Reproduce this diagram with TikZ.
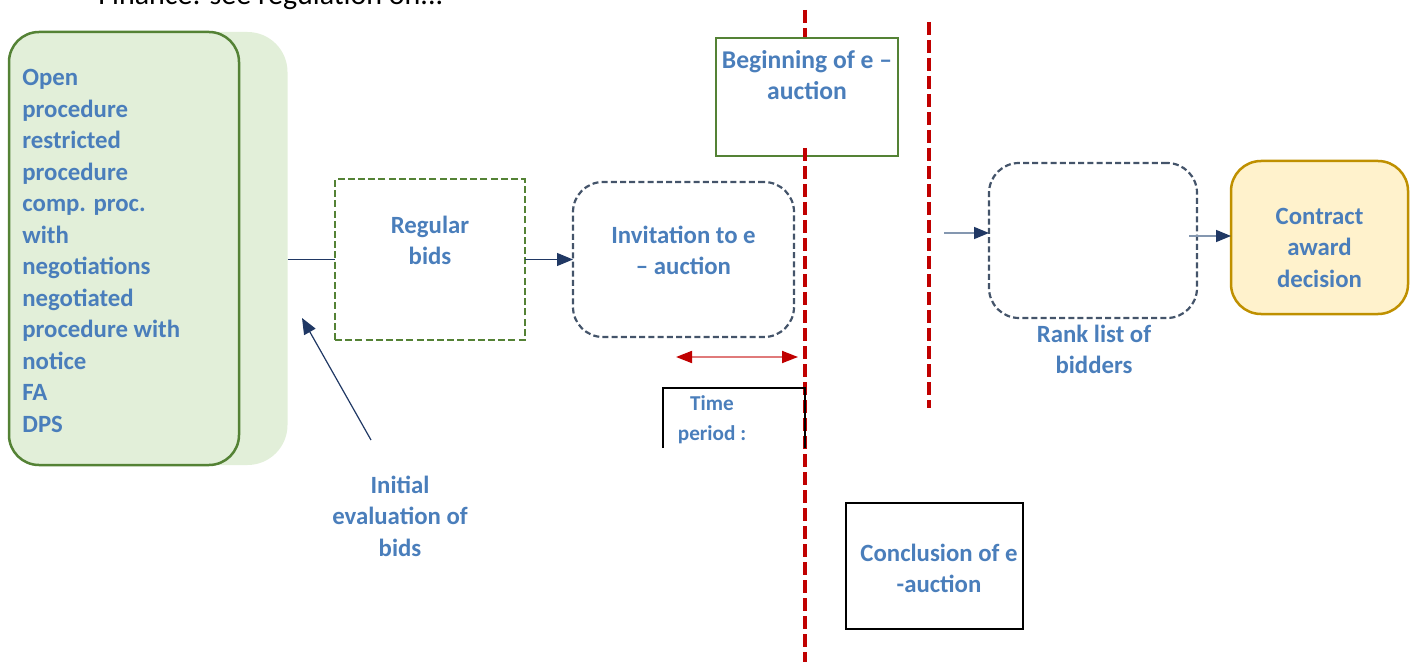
\documentclass[tikz,border=0pt]{standalone}
\usepackage{fontspec}
\setmainfont{Carlito}
\usetikzlibrary{arrows.meta}
\definecolor{txtblue}{HTML}{4A7EBB}
\definecolor{grnline}{HTML}{548235}
\definecolor{grnfill}{HTML}{E2EFD9}
\definecolor{slate}{HTML}{44546A}
\definecolor{navy}{HTML}{203864}
\definecolor{auctred}{HTML}{C00000}
\definecolor{lightred}{HTML}{E07A7A}
\definecolor{goldline}{HTML}{BF9000}
\definecolor{goldfill}{HTML}{FFF2CC}
\definecolor{greyblue}{HTML}{8497B0}
\tikzset{
  lbl/.style={font=\fontsize{12.4}{15.75}\selectfont\bfseries, text=txtblue, align=center, inner sep=0pt},
  smalllbl/.style={font=\fontsize{10.6}{15}\selectfont\bfseries, text=txtblue, align=center, inner sep=0pt},
  shapebox/.style={inner sep=0pt, outer sep=0pt},
  slatedash/.style={shapebox, draw=slate, line width=1.1pt, dash pattern=on 3pt off 1.6pt, rounded corners=15pt},
  redline/.style={draw=auctred, line width=2pt, dash pattern=on 6.5pt off 2.5pt},
  navyflow/.style={draw=navy, line width=0.6pt, -{Triangle[length=8pt,width=6.5pt]}},
  greyflow/.style={draw=greyblue, line width=0.75pt, -{Triangle[length=7.5pt,width=6pt,color=navy]}},
}
\begin{document}
\begin{tikzpicture}[x=0.5pt,y=-0.5pt]
\useasboundingbox (0,0) rectangle (1416,662);

% heading line running off the top edge
\node[anchor=base west, inner sep=0pt, font=\fontsize{15}{18}\selectfont] (note) at (98,5) {Finance: see regulation on...};

% procedure types
\node[shapebox, fill=grnfill, rounded corners=20pt, minimum width=139pt, minimum height=216.5pt] (procback) at (148.5,248.5) {};
\node[shapebox, draw=grnline, fill=grnfill, line width=1.25pt, rounded corners=15pt, minimum width=115pt, minimum height=216.5pt] (proc) at (124,248.5) {};
\node[lbl, align=left, anchor=north west] (proctext) at (22,69) {Open\\procedure\\restricted\\procedure\\comp. proc.\\with\\negotiations\\negotiated\\procedure with\\notice\\FA\\DPS};

% regular bids
\node[shapebox, draw=grnline, line width=1pt, dash pattern=on 3.5pt off 1.6pt, minimum width=95pt, minimum height=80pt] (regular) at (430,259.5) {};
\node[lbl] (regulartext) at (430,240.5) {Regular\\bids};

% invitation
\node[slatedash, minimum width=110.5pt, minimum height=77.5pt] (invite) at (683.5,259.5) {};
\node[lbl] (invitetext) at (683.5,250.5) {Invitation to e\\– auction};

% time marks
\draw[redline] (805,10) -- (805,40);
\draw[redline] (929,22) -- (929,408);
\node[shapebox, draw=grnline, fill=white, line width=1pt, minimum width=91pt, minimum height=59pt] (begin) at (807,97) {};
\node[lbl, font=\fontsize{12.8}{15.75}\selectfont\bfseries] (begintext) at (807,75) {Beginning of e –\\auction};
\draw[redline] (805,148) -- (805,662);

% time period
\coordinate (tpa) at (676,357);
\coordinate (tpb) at (798,357);
\draw[draw=lightred, line width=0.9pt, {Triangle[length=8pt,width=6pt,color=auctred]}-{Triangle[length=8pt,width=6pt,color=auctred]}] (tpa) -- (tpb);
\coordinate (tbl) at (663,448);
\coordinate (tbr) at (805,448);
\draw[black, line width=0.6pt] (tbl) -- (663,388) -- (805,388) -- (tbr);
\node[smalllbl] (timetext) at (712,420) {Time\\period :};

% initial evaluation
\coordinate (evaltail) at (371,440);
\coordinate (evalhead) at (302,318);
\draw[navyflow] (evaltail) -- (evalhead);
\node[lbl] (evaltext) at (400,516) {Initial\\evaluation of\\bids};

% rank list and decision
\node[slatedash, minimum width=104pt, minimum height=77.5pt] (rank) at (1093,240.5) {};
\node[lbl] (ranktext) at (1094,349.5) {Rank list of\\bidders};
\node[shapebox, draw=goldline, fill=goldfill, line width=1.25pt, rounded corners=15pt, minimum width=88.5pt, minimum height=76.5pt] (award) at (1319.5,237.5) {};
\node[lbl] (awardtext) at (1319.5,247.5) {Contract\\award\\decision};

% conclusion
\node[shapebox, draw=black, line width=1pt, minimum width=88.5pt, minimum height=63pt] (conclusion) at (934.5,566) {};
\node[lbl] (conclusiontext) at (939,568.5) {Conclusion of e\\-auction};

% flow
\draw[navy, line width=0.6pt] (procback.east |- regular.west) -- (regular.west);
\draw[navyflow] (regular.east) -- (invite.west);
\coordinate (rankin) at (944,233);
\draw[greyflow] (rankin) -- (rankin -| rank.west);
\coordinate (rankout) at (1189,236);
\draw[greyflow] (rankout) -- (rankout -| award.west);
\end{tikzpicture}
\end{document}
